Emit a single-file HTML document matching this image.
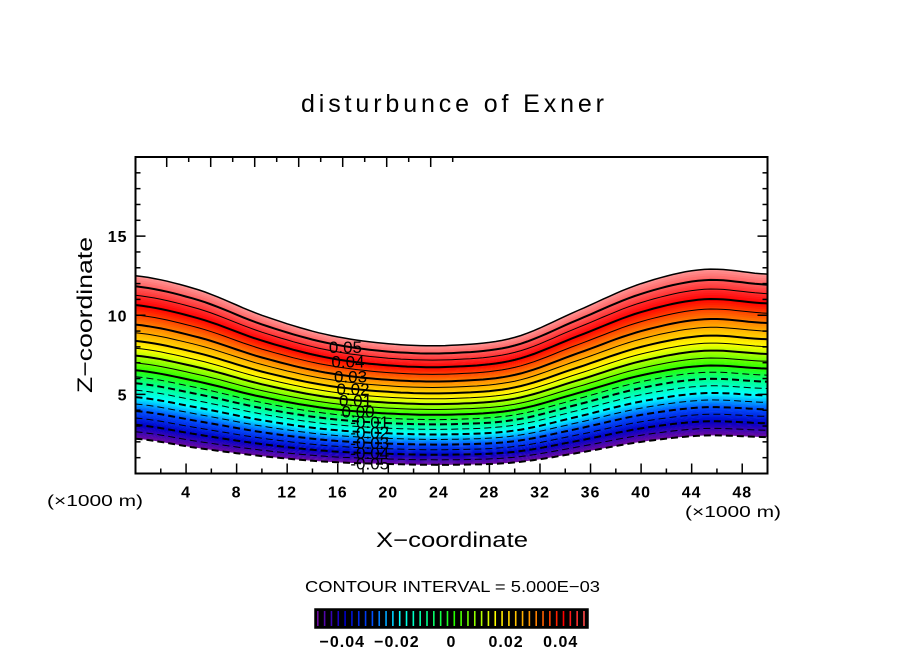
<!DOCTYPE html>
<html><head><meta charset="utf-8"><style>
body{margin:0;background:#fff}
svg text{font-family:"Liberation Sans",sans-serif;fill:#000}
</style></head><body>
<svg id="c" width="904" height="654" xmlns="http://www.w3.org/2000/svg">
<text x="301" y="112" font-size="25" textLength="303" lengthAdjust="spacing">disturbunce of Exner</text>
<g id="plot"></g>
<text x="376" y="547" font-size="21" textLength="152" lengthAdjust="spacingAndGlyphs">X−coordinate</text>
<text transform="translate(92,393) rotate(-90)" font-size="21" textLength="156" lengthAdjust="spacingAndGlyphs">Z−coordinate</text>
<text x="47" y="506" font-size="16" textLength="96" lengthAdjust="spacingAndGlyphs">(×1000 m)</text>
<text x="685" y="517" font-size="16" textLength="96" lengthAdjust="spacingAndGlyphs">(×1000 m)</text>
<text x="305" y="592" font-size="16" textLength="295" lengthAdjust="spacingAndGlyphs">CONTOUR INTERVAL = 5.000E−03</text>
<g id="cbar"></g>
</svg>
<script>
const xSamples=[0,5,10,15,20,25,30,35,40,45,50];
const topZ=[12.5,11.6,10.0,8.8,8.2,8.1,8.6,10.3,12.0,12.9,12.6];
const botZ=[2.2,1.6,1.1,0.75,0.6,0.55,0.7,1.3,2.0,2.4,2.3];
const levelVals=[-0.05,-0.045,-0.04,-0.035,-0.03,-0.025,-0.02,-0.015,-0.01,-0.005,0,0.005,0.01,0.015,0.02,0.025,0.03,0.035,0.04,0.045,0.05,0.055];
const levelFrac=[0,0.042,0.085,0.127,0.17,0.213,0.255,0.298,0.34,0.38,0.42,0.465,0.51,0.555,0.6,0.65,0.7,0.76,0.82,0.88,0.935,1];
const xTicks=[4,8,12,16,20,24,28,32,36,40,44,48];
const yTicks=[5,10,15];
const cbTicks=[-0.04,-0.02,0,0.02,0.04];
const cbLabels=["−0.04","−0.02","0","0.02","0.04"];
const labelVals=[0.05,0.04,0.03,0.02,0.01,0,-0.01,-0.02,-0.03,-0.04,-0.05];
const labelText=["0.05","0.04","0.03","0.02","0.01","0.00","-0.01","-0.02","-0.03","-0.04","-0.05"];

const NS="http://www.w3.org/2000/svg";
const L=135.5,R=767.5,T=157,B=473.5;
const sx=x=>L+(x)/50*(R-L), sy=z=>B-z/20*(B-T);
function mk(tag,attrs,parent){const e=document.createElementNS(NS,tag);for(const k in attrs)e.setAttribute(k,attrs[k]);parent.appendChild(e);return e;}
function spline(xa,ya,x){let i=Math.min(Math.floor(x/5),xa.length-2);const t=(x-xa[i])/5;
 const p0=ya[Math.max(i-1,0)],p1=ya[i],p2=ya[i+1],p3=ya[Math.min(i+2,ya.length-1)];
 return 0.5*((2*p1)+(-p0+p2)*t+(2*p0-5*p1+4*p2-p3)*t*t+(-p0+3*p1-3*p2+p3)*t*t*t);}
function fracOf(v){for(let i=0;i<levelVals.length-1;i++){if(v<=levelVals[i+1]+1e-9){const t=(v-levelVals[i])/(levelVals[i+1]-levelVals[i]);return levelFrac[i]+t*(levelFrac[i+1]-levelFrac[i]);}}return 1;}
function zAt(x,v){const b=spline(xSamples,botZ,x),t=spline(xSamples,topZ,x);return b+(t-b)*fracOf(v);}
const cstops=[[-0.05,[110,10,160]],[-0.04,[0,0,200]],[-0.03,[0,80,255]],[-0.02,[0,255,255]],[-0.01,[0,255,140]],[0,[40,255,0]],[0.01,[180,255,0]],[0.015,[255,255,0]],[0.025,[255,175,0]],[0.03,[255,128,0]],[0.04,[255,0,0]],[0.05,[255,95,95]],[0.055,[255,150,150]]];
function col(v){for(let i=0;i<cstops.length-1;i++){if(v<=cstops[i+1][0]){const t=Math.max(0,(v-cstops[i][0])/(cstops[i+1][0]-cstops[i][0]));const c=cstops[i][1].map((a,j)=>Math.round(a+t*(cstops[i+1][1][j]-a)));return `rgb(${c})`;}}return "rgb(255,150,150)";}
const plot=document.getElementById('plot');
const xs=[];for(let x=0;x<=50.001;x+=0.5)xs.push(x);
function curve(v){return xs.map(x=>[sx(x),sy(zAt(x,v))]);}
const vmin=levelVals[0],vmax=levelVals[levelVals.length-1];
for(let v=vmin;v<vmax-1e-9;v+=0.001){
 const a=curve(v),b=curve(Math.min(v+0.0012,vmax));
 const pts=a.concat(b.reverse()).map(p=>p.join(',')).join(' ');
 const p=mk('polygon',{points:pts,fill:col(v+0.0005),stroke:'none'},plot);
 
 
}
for(const v of levelVals){
 const d='M'+curve(v).map(p=>p[0].toFixed(1)+','+p[1].toFixed(1)).join('L');
 const thick=Math.abs(Math.round(v*100)-v*100)<1e-6;
 const attrs={d:d,fill:'none',stroke:'#000','stroke-width':(v===vmax)?1.5:(thick?2:1)};
 if(v<0)attrs['stroke-dasharray']='7,4';
 const p=mk('path',attrs,plot);
 
 
}
labelVals.forEach((v,i)=>{const x=v>=0?15.3+i*0.2:17.0;const y=sy(zAt(x+1.5,v))+6;
 const t=mk('text',{x:sx(x),y:y,'font-size':17},plot);t.textContent=labelText[i];
 
 });
const fr=mk('rect',{x:L,y:T,width:R-L,height:B-T,fill:'none',stroke:'#000','stroke-width':2},plot);

for(let x=2;x<50;x+=2){const len=(x%4===0)?10:5;
 mk('line',{x1:sx(x),x2:sx(x),y1:B,y2:B-len,stroke:'#000','stroke-width':1.5},plot);}
for(let k=0;k<14;k++){const px=166.7+k*22;if(px>=R)break;const len=(k%2===0)?10:5;
 mk('line',{x1:px,x2:px,y1:T,y2:T+len,stroke:'#000','stroke-width':1.5},plot);}
xTicks.forEach(x=>{const t=mk('text',{x:sx(x),y:B+24,'font-size':16,'text-anchor':'middle','letter-spacing':1,'font-weight':'bold'},plot);t.textContent=x;
 });
for(let z=1;z<20;z++){const len=(z%5===0)?10:5;
 mk('line',{x1:L,x2:L+len,y1:sy(z),y2:sy(z),stroke:'#000','stroke-width':1.5},plot);
 mk('line',{x1:R,x2:R-len,y1:sy(z),y2:sy(z),stroke:'#000','stroke-width':1.5},plot);}
yTicks.forEach(z=>{const t=mk('text',{x:L-8,y:sy(z)+6,'font-size':16,'text-anchor':'end','letter-spacing':1,'font-weight':'bold'},plot);t.textContent=z;
 });
const cb=document.getElementById('cbar');const cL=315,cR=588,cT=609,cB=628;
const cx=v=>cL+(v+0.05)/0.1*(cR-cL);
mk('rect',{x:cL,y:cT,width:cR-cL,height:cB-cT,fill:'#000'},cb);
for(let v=-0.05;v<0.05;v+=0.0025){const r=mk('rect',{x:cx(v)+2,y:cT+2,width:1.6,height:cB-cT-4,fill:col(v)},cb);
 }
mk('rect',{x:cL,y:cT,width:cR-cL,height:cB-cT,fill:'none',stroke:'#000','stroke-width':1.5},cb);
cbTicks.forEach((v,i)=>{const t=mk('text',{x:cx(v),y:647,'font-size':16,'text-anchor':'middle','letter-spacing':1,'font-weight':'bold'},cb);t.textContent=cbLabels[i];
 });
</script>
</body></html>
